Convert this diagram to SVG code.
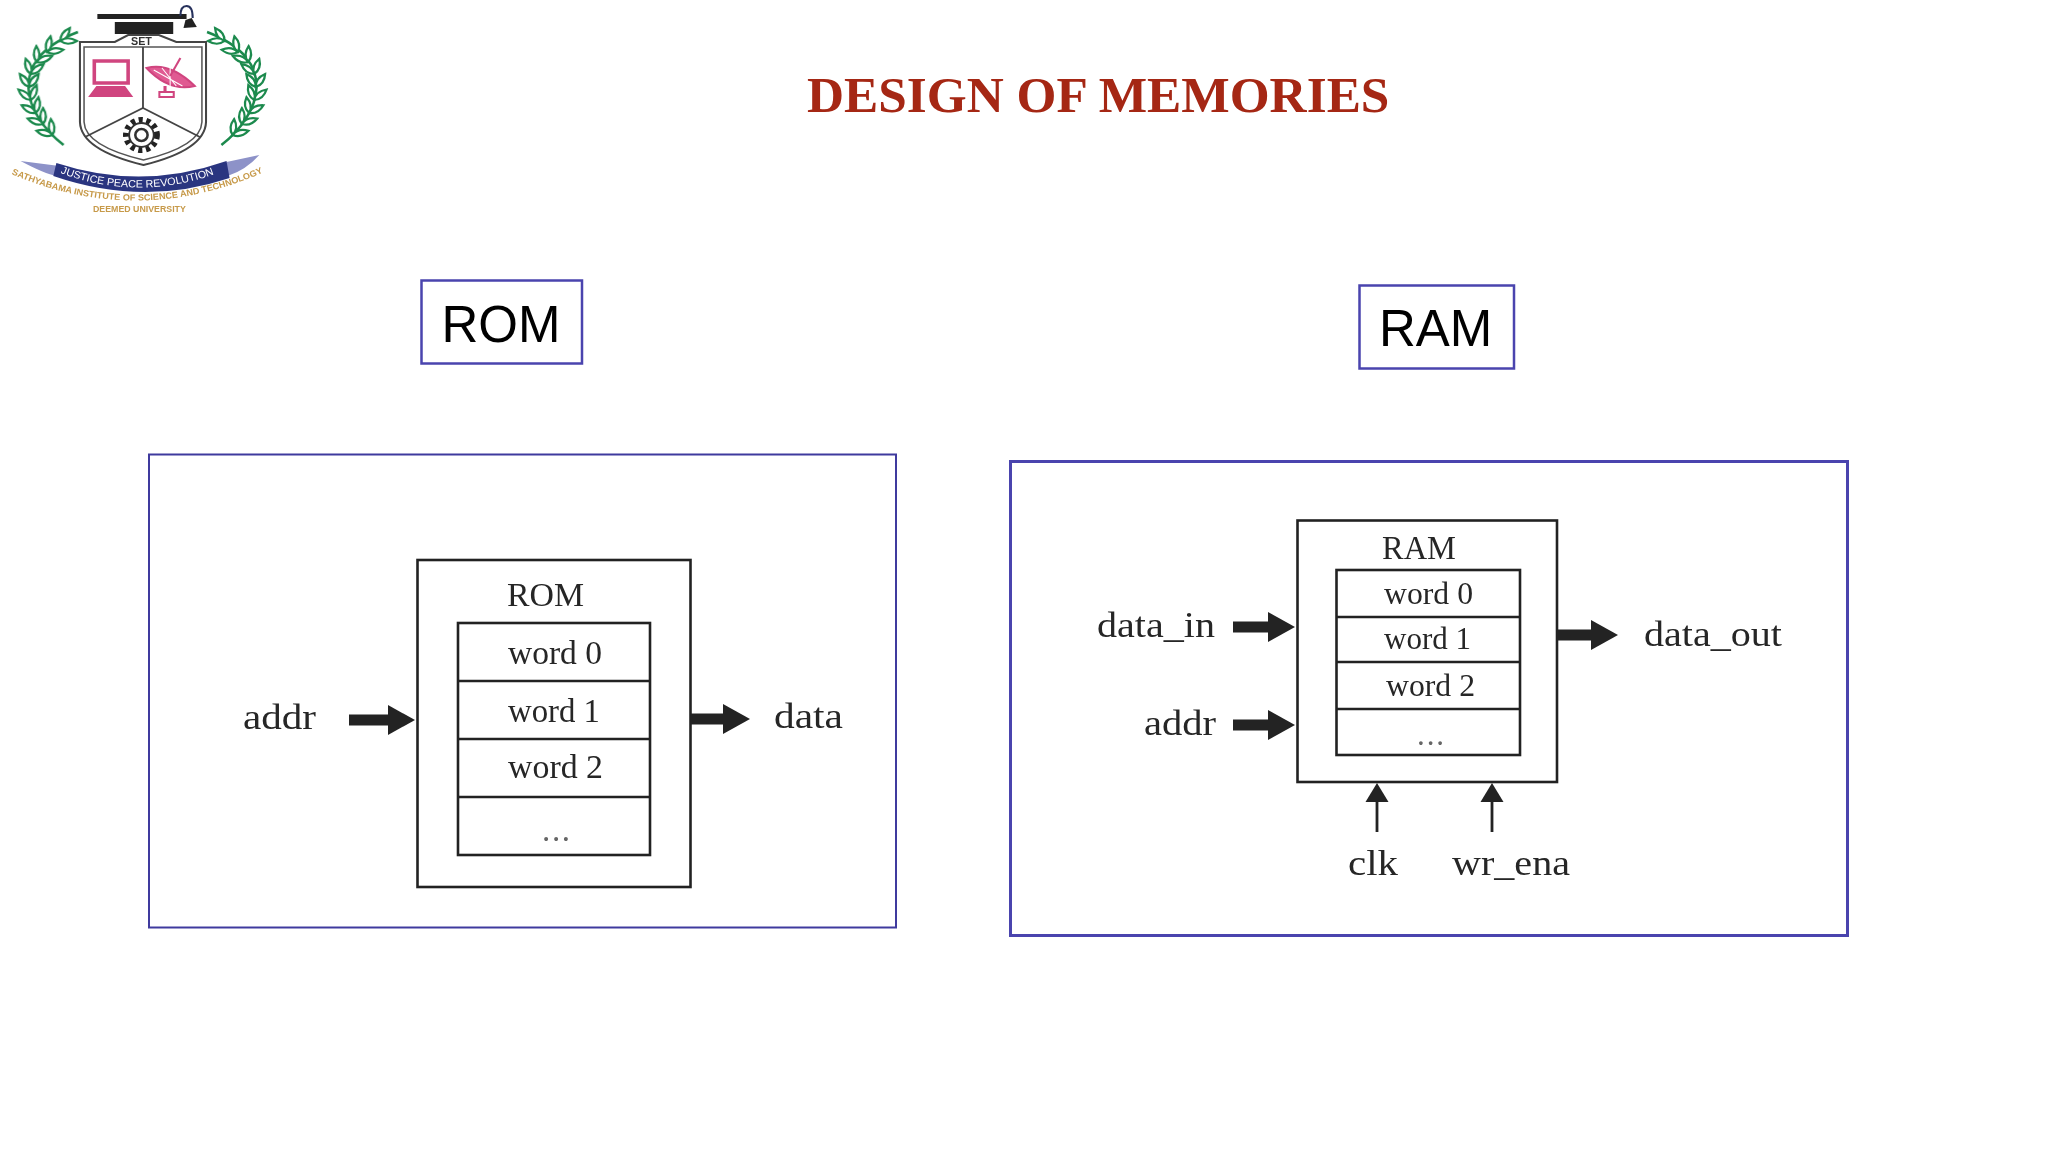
<svg xmlns="http://www.w3.org/2000/svg" xmlns:xlink="http://www.w3.org/1999/xlink" width="2048" height="1152" viewBox="0 0 2048 1152">
<style>
.frame{fill:none;stroke:#4a44ae}
.box{fill:#fff;stroke:#222;stroke-width:2.6}
.t{font-family:"Liberation Serif","Times New Roman",serif;fill:#262626}
.fw{font-size:33px}
.fl{font-size:36px}
.dots{fill:#666}
.tag{font-family:"Liberation Sans",Arial,sans-serif;font-size:51px;fill:#000}
.thick{stroke:#232323;stroke-width:11;fill:none}
.thin{stroke:#232323;stroke-width:2.8;fill:none}
.lf{fill:#fff;stroke:#1d8a4e;stroke-width:2.2}
.logoB{font-family:"Liberation Sans",Arial,sans-serif;font-weight:bold}
</style>
<defs>
<filter id="soft" x="-5%" y="-5%" width="110%" height="110%"><feGaussianBlur stdDeviation="0.5"/></filter>
<marker id="bh" markerUnits="userSpaceOnUse" markerWidth="28" markerHeight="32" refX="0" refY="16" orient="auto"><path d="M0 1L27 16L0 31z" fill="#232323"/></marker>
<marker id="th" markerUnits="userSpaceOnUse" markerWidth="20" markerHeight="24" refX="0" refY="12" orient="auto"><path d="M0 0.5L19 12L0 23.5z" fill="#232323"/></marker>
<path id="leaf" class="lf" d="M0 0Q7 -5.500 16 0Q7 5.500 0 0z"/>
<path id="bannerText" d="M56 172Q138 204 220 170"/>
<path id="orangeText" d="M11 174Q134 228 258 172"/>
<g id="laurel">
<path d="M58 145C20 115 0 60 72 32" fill="none" stroke="#1d8a4e" stroke-width="2.500"/>
<use xlink:href="#leaf" transform="translate(47 135) rotate(-165)"/><use xlink:href="#leaf" transform="translate(47 135) rotate(-95)"/>
<use xlink:href="#leaf" transform="translate(38 124) rotate(-160)"/><use xlink:href="#leaf" transform="translate(38 124) rotate(-90)"/>
<use xlink:href="#leaf" transform="translate(31 113) rotate(-151)"/><use xlink:href="#leaf" transform="translate(31 113) rotate(-81)"/>
<use xlink:href="#leaf" transform="translate(26 100) rotate(-139)"/><use xlink:href="#leaf" transform="translate(26 100) rotate(-69)"/>
<use xlink:href="#leaf" transform="translate(24.500 87) rotate(-125)"/><use xlink:href="#leaf" transform="translate(24.500 87) rotate(-55)"/>
<use xlink:href="#leaf" transform="translate(26 74) rotate(-108)"/><use xlink:href="#leaf" transform="translate(26 74) rotate(-38)"/>
<use xlink:href="#leaf" transform="translate(32 62) rotate(-92)"/><use xlink:href="#leaf" transform="translate(32 62) rotate(-22)"/>
<use xlink:href="#leaf" transform="translate(42 52) rotate(-78)"/><use xlink:href="#leaf" transform="translate(42 52) rotate(-8)"/>
<use xlink:href="#leaf" transform="translate(55 41) rotate(-55)"/><use xlink:href="#leaf" transform="translate(55 41) rotate(0)"/>
</g>
</defs>
<rect width="2048" height="1152" fill="#fff"/>

<g id="logo" transform="scale(1.025 1)" filter="url(#soft)">
<use xlink:href="#laurel" transform="translate(4 0)"/>
<use xlink:href="#laurel" transform="translate(274 0) scale(-1 1)"/>
<rect x="95" y="14" width="87" height="5" fill="#222"/>
<rect x="112" y="22" width="57" height="12" fill="#222"/>
<path d="M176 16Q176 6 182 6Q188 6 188 18" fill="none" stroke="#28305c" stroke-width="2"/>
<path d="M179 28L181 20L187 18L192 27z" fill="#222"/>
<path d="M78 42H112L125 35H155L172 42H201V122Q200 150 140 165Q79 150 78 122z" fill="#fff" stroke="#444" stroke-width="2"/>
<path d="M82 47H197V122Q196 146 140 160Q83 146 82 122z" fill="none" stroke="#555" stroke-width="1.500"/>
<path d="M139.500 47V108M83 137L139.500 108L195 137" fill="none" stroke="#444" stroke-width="1.800"/>
<text class="logoB" x="138" y="45" font-size="10.500" fill="#333" text-anchor="middle">SET</text>
<rect x="92" y="61" width="33" height="22" fill="#fff" stroke="#d0457f" stroke-width="3.500"/>
<path d="M94 86H122L130 97H86z" fill="#d0457f"/>
<g fill="none" stroke="#d0457f">
<path d="M143 68Q166 62 190 86Q165 92 143 68z" fill="#e05a92" stroke-width="2"/>
<path d="M150 70L178 86M158 68L172 86M166 68L166 86" stroke="#fff" stroke-width="1"/>
<path d="M176 58L166 76" stroke-width="2"/>
<path d="M161 86V92" stroke-width="3"/>
<rect x="155.500" y="92" width="14" height="5" fill="#fff" stroke-width="2"/>
</g>
<circle cx="138" cy="135" r="15" fill="none" stroke="#222" stroke-width="6" stroke-dasharray="4 3.500"/>
<circle cx="138" cy="135" r="12" fill="#fff" stroke="#333" stroke-width="1.800"/>
<circle cx="138" cy="135" r="6" fill="none" stroke="#333" stroke-width="2.500"/>
<path d="M20 161L58 166L55 176Q44 174 20 161z" fill="#8d92c8"/>
<path d="M253 155L221 162L222 176Q240 170 253 155z" fill="#8d92c8"/>
<path d="M55 163Q138 191 221 161L224 178Q140 207 52 176z" fill="#2b3580"/>
<text class="logoB" font-size="10.500" fill="#fff" style="font-weight:normal"><textPath xlink:href="#bannerText" startOffset="3">JUSTICE PEACE REVOLUTION</textPath></text>
<text class="logoB" font-size="8.900" fill="#c79a4a"><textPath xlink:href="#orangeText">SATHYABAMA INSTITUTE OF SCIENCE AND TECHNOLOGY</textPath></text>
<text class="logoB" x="136" y="212.500" font-size="8.600" fill="#c79a4a" text-anchor="middle">DEEMED UNIVERSITY</text>
</g>

<text id="title" x="807" y="112" font-family="Liberation Serif,Times New Roman,serif" font-weight="bold" font-size="51.300" fill="#a52714">DESIGN OF MEMORIES</text>

<g id="rom-tag"><rect x="421.500" y="280.500" width="160.500" height="83" fill="#fff" stroke="#4a44ae" stroke-width="2.500"/><text class="tag" x="441.500" y="342">ROM</text></g>
<g id="ram-tag"><rect x="1359.500" y="285.500" width="154.500" height="83" fill="#fff" stroke="#4a44ae" stroke-width="2.500"/><text class="tag" x="1379" y="346">RAM</text></g>

<g id="rom-frame"><rect class="frame" x="149" y="454.500" width="747" height="473" stroke-width="2" style="stroke:#3f3a9e"/></g>
<g id="ram-frame"><rect class="frame" x="1010.500" y="461.500" width="837" height="474" stroke-width="3"/></g>

<g id="rom">
<rect class="box" x="417.500" y="560" width="273" height="327"/>
<text class="t fw" x="507" y="606" textLength="77" lengthAdjust="spacingAndGlyphs">ROM</text>
<rect class="box" x="458" y="623" width="192" height="232"/>
<path d="M458 681H650M458 739H650M458 797H650" stroke="#222" stroke-width="2.600"/>
<text class="t fw" x="508" y="664" textLength="94" lengthAdjust="spacingAndGlyphs">word 0</text>
<text class="t fw" x="508" y="722" textLength="92" lengthAdjust="spacingAndGlyphs">word 1</text>
<text class="t fw" x="508" y="778" textLength="95" lengthAdjust="spacingAndGlyphs">word 2</text>
<text class="t fw dots" x="542" y="841" textLength="28" lengthAdjust="spacing">...</text>
</g>
<text id="rom-addr" class="t fl" x="243" y="729" textLength="73" lengthAdjust="spacingAndGlyphs">addr</text>
<text id="rom-data" class="t fl" x="774" y="728" textLength="69" lengthAdjust="spacingAndGlyphs">data</text>

<g id="ram">
<rect class="box" x="1297.500" y="520.500" width="259.500" height="261.500"/>
<text class="t fw" x="1382" y="559.300" textLength="74" lengthAdjust="spacingAndGlyphs">RAM</text>
<rect class="box" x="1336.500" y="570" width="183.500" height="185"/>
<path d="M1336 617H1520M1336 662H1520M1336 709H1520" stroke="#222" stroke-width="2.600"/>
<text class="t fw" x="1384" y="604.300" textLength="89" lengthAdjust="spacingAndGlyphs" style="font-size:31px">word 0</text>
<text class="t fw" x="1384" y="649.300" textLength="87" lengthAdjust="spacingAndGlyphs" style="font-size:31px">word 1</text>
<text class="t fw" x="1386" y="696.300" textLength="89" lengthAdjust="spacingAndGlyphs" style="font-size:31px">word 2</text>
<text class="t fw dots" x="1417" y="744.500" textLength="27" lengthAdjust="spacing" style="font-size:31px">...</text>
</g>
<text id="ram-data-in" class="t fl" x="1097" y="637.300" textLength="118" lengthAdjust="spacingAndGlyphs">data_in</text>
<text id="ram-addr" class="t fl" x="1144" y="735.300" textLength="72" lengthAdjust="spacingAndGlyphs">addr</text>
<text id="ram-data-out" class="t fl" x="1644" y="645.500" textLength="138" lengthAdjust="spacingAndGlyphs">data_out</text>
<text id="ram-clk" class="t fl" x="1348" y="875.300" textLength="50" lengthAdjust="spacingAndGlyphs">clk</text>
<text id="ram-wr-ena" class="t fl" x="1452" y="875.300" textLength="118" lengthAdjust="spacingAndGlyphs">wr_ena</text>

<g id="connectors">
<line class="thick" x1="349" y1="720" x2="388" y2="720" marker-end="url(#bh)"/>
<line class="thick" x1="691" y1="719" x2="723" y2="719" marker-end="url(#bh)"/>
<line class="thick" x1="1233" y1="627" x2="1268" y2="627" marker-end="url(#bh)"/>
<line class="thick" x1="1233" y1="725" x2="1268" y2="725" marker-end="url(#bh)"/>
<line class="thick" x1="1557" y1="635" x2="1591" y2="635" marker-end="url(#bh)"/>
<line class="thin" x1="1377" y1="832" x2="1377" y2="802" marker-end="url(#th)"/>
<line class="thin" x1="1492" y1="832" x2="1492" y2="802" marker-end="url(#th)"/>
</g>
</svg>
